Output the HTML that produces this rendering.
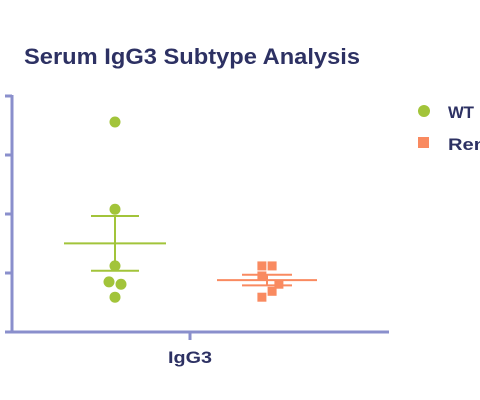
<!DOCTYPE html>
<html><head><meta charset="utf-8"><style>
html,body{margin:0;padding:0;background:#fff;width:480px;height:400px;overflow:hidden}
svg{display:block;font-family:"Liberation Sans",sans-serif}
</style></head><body>
<svg width="480" height="400" viewBox="0 0 480 400">
<text x="24" y="64" font-size="22" font-weight="bold" fill="#2d3163" textLength="336" lengthAdjust="spacingAndGlyphs">Serum IgG3 Subtype Analysis</text>
<g id="axes"></g>
<g id="marks"></g>
<g>
<circle cx="424" cy="111" r="6" fill="#a2c43a"/>
<text x="448" y="118" font-size="17" font-weight="bold" fill="#2d3163" textLength="26" lengthAdjust="spacingAndGlyphs">WT</text>
<rect x="418" y="137" width="11" height="11" fill="#f98a60"/>
<text x="448" y="150" font-size="17" font-weight="bold" fill="#2d3163" textLength="38" lengthAdjust="spacingAndGlyphs">Ren</text>
</g>
</svg>
<script>
const categories = ["IgG3"];
const wtValues = [3.56, 2.08, 1.12, 0.85, 0.81, 0.59];
const wtOffsets = [0, 0, 0, -1, 1, 0];
const renValues = [1.12, 1.12, 0.95, 0.81, 0.69, 0.59];
const renOffsets = [-0.6, 0.6, -0.6, 1.4, 0.6, -0.6];
const yTicks = [0, 1, 2, 3, 4];

const NS = "http://www.w3.org/2000/svg";
const y = v => 332 - v * 59;
const axisColor = "#8a8fcc";
function mk(tag, attrs, parent){const e=document.createElementNS(NS,tag);for(const k in attrs)e.setAttribute(k,attrs[k]);parent.appendChild(e);return e;}
const axes=document.getElementById('axes'), marks=document.getElementById('marks');
let e=mk('line',{x1:12,y1:y(4)-1,x2:12,y2:333,stroke:axisColor,'stroke-width':3},axes);


e=mk('line',{x1:11,y1:332,x2:389,y2:332,stroke:axisColor,'stroke-width':3},axes);


yTicks.forEach(t=>{
  const l=mk('line',{x1:5,y1:y(t),x2:12,y2:y(t),stroke:axisColor,'stroke-width':3},axes);
  
  
});
e=mk('line',{x1:190,y1:332,x2:190,y2:340,stroke:axisColor,'stroke-width':3},axes);


e=mk('text',{x:168,y:363,'font-size':17,'font-weight':'bold',fill:'#2d3163',textLength:44,lengthAdjust:'spacingAndGlyphs'},axes);
e.textContent=categories[0];



function stats(a){const m=a.reduce((s,v)=>s+v,0)/a.length;const sd=Math.sqrt(a.reduce((s,v)=>s+(v-m)*(v-m),0)/(a.length-1));return [m,sd/Math.sqrt(a.length)];}
function group(vals, offs, cx, color, shape, name, meanHalf, semHalf){
  const [m,se]=stats(vals);
  let l=mk('line',{x1:cx,y1:y(m+se),x2:cx,y2:y(m-se),stroke:color,'stroke-width':2},marks);
  
  
  [m+se,m-se].forEach(v=>{
    const c=mk('line',{x1:cx-semHalf,y1:y(v),x2:cx+semHalf,y2:y(v),stroke:color,'stroke-width':2},marks);
    
    
  });
  vals.forEach((v,i)=>{
    const px=cx+offs[i]*(shape==='c'?6:8.5);
    let p;
    if(shape==='c') p=mk('circle',{cx:px,cy:y(v),r:5.5,fill:color},marks);
    else p=mk('rect',{x:px-4.5,y:y(v)-4.5,width:9,height:9,fill:color},marks);
    
    
  });
  l=mk('line',{x1:cx-meanHalf,y1:y(m),x2:cx+meanHalf,y2:y(m),stroke:color,'stroke-width':2},marks);
  
  
}
group(wtValues, wtOffsets, 115, "#a2c43a", 'c', 'wt', 51, 24);
group(renValues, renOffsets, 267, "#f98a60", 's', 'ren', 50, 25);
</script>
</body></html>
